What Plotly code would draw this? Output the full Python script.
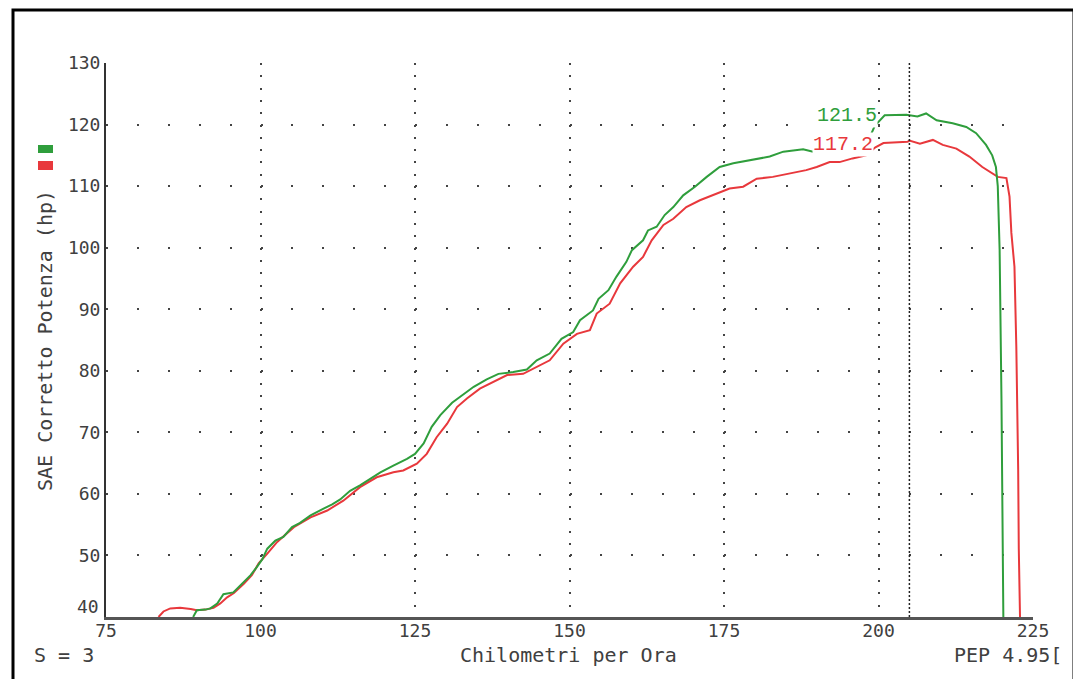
import plotly.graph_objects as go

# ---- data ----
green_speed = [89.1, 89.7, 91.1, 91.9, 93.0, 94.0, 95.6, 97.2, 98.4, 99.4, 100.3, 101.1, 102.4, 103.7,
               105.1, 106.4, 108.1, 110.2, 111.6, 112.9, 114.5, 116.1, 117.8, 119.4, 121.5, 123.7, 125.0,
               126.4, 127.7, 129.1, 131.0, 132.6, 134.5, 136.6, 138.5, 140.9, 143.1, 144.7, 146.8, 148.7,
               150.6, 151.7, 153.8, 154.7, 156.3, 157.6, 159.2, 160.1, 161.9, 162.7, 164.1, 165.4, 166.8,
               168.4, 170.3, 172.2, 174.3, 176.5, 179.2, 182.4, 184.6, 187.8, 189.4, 193.2, 197.2, 198.4,
               199.4, 201.0, 204.5, 206.3, 207.7, 209.4, 212.0, 214.2, 215.8, 217.4, 218.4, 219.0, 219.3,
               219.6, 219.9, 220.2]
green_power = [40.0, 41.1, 41.2, 41.4, 42.2, 43.7, 44.0, 45.7, 46.8, 48.1, 49.4, 51.1, 52.4, 53.0,
               54.6, 55.3, 56.5, 57.6, 58.3, 59.1, 60.5, 61.4, 62.5, 63.5, 64.6, 65.7, 66.5,
               68.2, 70.9, 72.8, 74.8, 76.0, 77.4, 78.6, 79.5, 79.8, 80.2, 81.7, 82.8, 85.2,
               86.3, 88.2, 89.8, 91.7, 93.1, 95.3, 97.7, 99.6, 101.2, 102.8, 103.4, 105.3, 106.6,
               108.5, 109.9, 111.5, 113.1, 113.7, 114.2, 114.8, 115.6, 116.0, 115.6, 116.0, 116.5, 117.5,
               119.8, 121.5, 121.6, 121.3, 121.8, 120.7, 120.2, 119.6, 118.6, 116.7, 115.0, 113.1, 110.0,
               99.6, 75.2, 40.0]

red_speed = [83.5, 84.3, 85.4, 87.0, 88.7, 89.7, 91.1, 92.4, 93.5, 94.6, 95.7, 97.3, 98.6, 99.7,
             101.1, 102.7, 105.4, 108.1, 110.8, 113.4, 116.1, 118.8, 121.5, 123.1, 125.3, 126.9, 128.5,
             130.2, 131.8, 133.4, 135.5, 137.7, 139.9, 142.5, 144.7, 146.8, 149.0, 151.2, 153.3, 154.4,
             156.5, 158.2, 160.3, 161.9, 163.3, 165.2, 166.8, 168.9, 171.1, 173.8, 175.9, 178.1, 180.3,
             182.9, 186.2, 188.3, 190.0, 192.1, 193.7, 195.8, 198.0, 199.5, 200.8, 202.3, 204.7, 205.0,
             206.7, 208.8, 210.4, 212.6, 214.7, 216.8, 218.4, 219.3, 220.7, 221.2, 221.5, 222.0, 222.3,
             222.5, 222.6, 222.7, 222.9]
red_power = [40.0, 40.9, 41.4, 41.5, 41.3, 41.1, 41.2, 41.5, 42.2, 43.2, 43.9, 45.4, 46.8, 48.7,
             50.3, 52.2, 54.6, 56.2, 57.3, 58.9, 61.1, 62.7, 63.5, 63.8, 64.9, 66.5, 69.2,
             71.4, 74.1, 75.5, 77.1, 78.2, 79.3, 79.5, 80.6, 81.7, 84.4, 86.0, 86.6, 89.3,
             90.9, 94.2, 96.9, 98.5, 101.2, 103.7, 104.7, 106.6, 107.7, 108.8, 109.6, 109.9, 111.2,
             111.5, 112.1, 112.6, 113.1, 113.9, 113.9, 114.5, 115.0, 116.3, 117.0, 117.1, 117.2, 117.4,
             116.9, 117.5, 116.7, 116.1, 114.8, 113.1, 112.1, 111.5, 111.3, 108.3, 102.4, 96.9, 84.0,
             73.7, 64.0, 51.1, 40.0]

x_ticks = [75, 100, 125, 150, 175, 200, 225]
y_ticks = [50, 60, 70, 80, 90, 100, 110, 120, 130]
y_tick_labels = ["50", "60", "70", "80", "90", "100", "110", "120", "130"]

green_peak = 121.5
red_peak = 117.2
peak_speed = 205

GREEN = "#2f9e3c"
RED = "#e8383c"
TXT = "#404040"
FONT = "DejaVu Sans Mono"

# page body margin offset (the html body has an 8px margin)
OFF = 8
FW, FH = 1081 - OFF, 679 - OFF

# plot area in target-image pixels
L, R, T, B = 106, 1033, 63, 617
W, H = R - L, B - T


def px(x):
    return (x - L) / W


def py(y):
    return (B - y) / H


fig = go.Figure()
fig.add_trace(go.Scatter(x=red_speed, y=red_power, mode="lines",
                         line=dict(color=RED, width=2), hoverinfo="skip"))
fig.add_trace(go.Scatter(x=green_speed, y=green_power, mode="lines",
                         line=dict(color=GREEN, width=2), hoverinfo="skip"))

xper = W / 150 * 5
yper = H / 90 * 2

fig.update_layout(
    width=FW, height=FH,
    margin=dict(l=L - OFF, r=FW - (R - OFF), t=T - OFF, b=FH - (B - OFF), pad=0),
    paper_bgcolor="white", plot_bgcolor="white",
    showlegend=False,
    font=dict(family=FONT, color=TXT, size=18),
    xaxis=dict(range=[75, 225], tickvals=x_ticks, ticktext=[str(v) for v in x_ticks],
               showgrid=True, gridcolor="#444444", gridwidth=2,
               griddash="2px,%.2fpx" % (yper - 2),
               showline=True, linecolor="#555555", linewidth=3,
               ticks="", zeroline=False, ticklabelstandoff=-5,
               tickfont=dict(size=18, family=FONT, color=TXT)),
    yaxis=dict(range=[40, 130], tickvals=y_ticks, ticktext=y_tick_labels,
               showgrid=True, gridcolor="#444444", gridwidth=2,
               griddash="2px,%.2fpx" % (xper - 2),
               showline=True, linecolor="#333333", linewidth=2,
               ticks="", zeroline=False, tickfont=dict(size=18, family=FONT, color=TXT)),
)

shapes = []
# peak marker line
shapes.append(dict(type="line", xref="x", yref="paper", x0=peak_speed, x1=peak_speed, y0=0, y1=1,
                   line=dict(color="#222222", width=1.5, dash="2px,2px")))
# outer frame
shapes.append(dict(type="rect", xref="paper", yref="paper", x0=px(13), x1=px(1074), y0=py(10), y1=py(690),
                   line=dict(color="black", width=3)))
# legend squares
shapes.append(dict(type="rect", xref="paper", yref="paper", x0=px(38), x1=px(53), y0=py(145), y1=py(153),
                   line=dict(width=0), fillcolor=GREEN))
shapes.append(dict(type="rect", xref="paper", yref="paper", x0=px(38), x1=px(53), y0=py(161), y1=py(170),
                   line=dict(width=0), fillcolor=RED))
fig.update_layout(shapes=shapes)


def note(text, x, y, xanchor="center", size=20, **kw):
    return dict(text=text, xref="paper", yref="paper", x=px(x), y=py(y), xanchor=xanchor,
                yanchor="middle", showarrow=False, font=dict(size=size, family=FONT, color=TXT), **kw)


ann = [
    note("SAE Corretto Potenza (hp)", 45, 341, size=20, textangle=-90),
    note("40", 101, 606, xanchor="right", size=18),
    note("S = 3", 32, 655, xanchor="left"),
    note("Chilometri per Ora", 568, 655),
    note("PEP 4.95[", 952, 655, xanchor="left"),
]
ann.append(dict(text="%.1f" % green_peak, xref="paper", yref="y", x=px(878), y=green_peak,
                xanchor="right", yanchor="middle", showarrow=False, bgcolor="white", borderpad=0,
                font=dict(size=20, family="Liberation Mono", color=GREEN)))
ann.append(dict(text="%.1f" % red_peak, xref="paper", yref="y", x=px(874), y=red_peak, yshift=-3,
                xanchor="right", yanchor="middle", showarrow=False, bgcolor="white", borderpad=0,
                font=dict(size=20, family="Liberation Mono", color=RED)))
fig.update_layout(annotations=ann)

fig.write_html("out.html")
